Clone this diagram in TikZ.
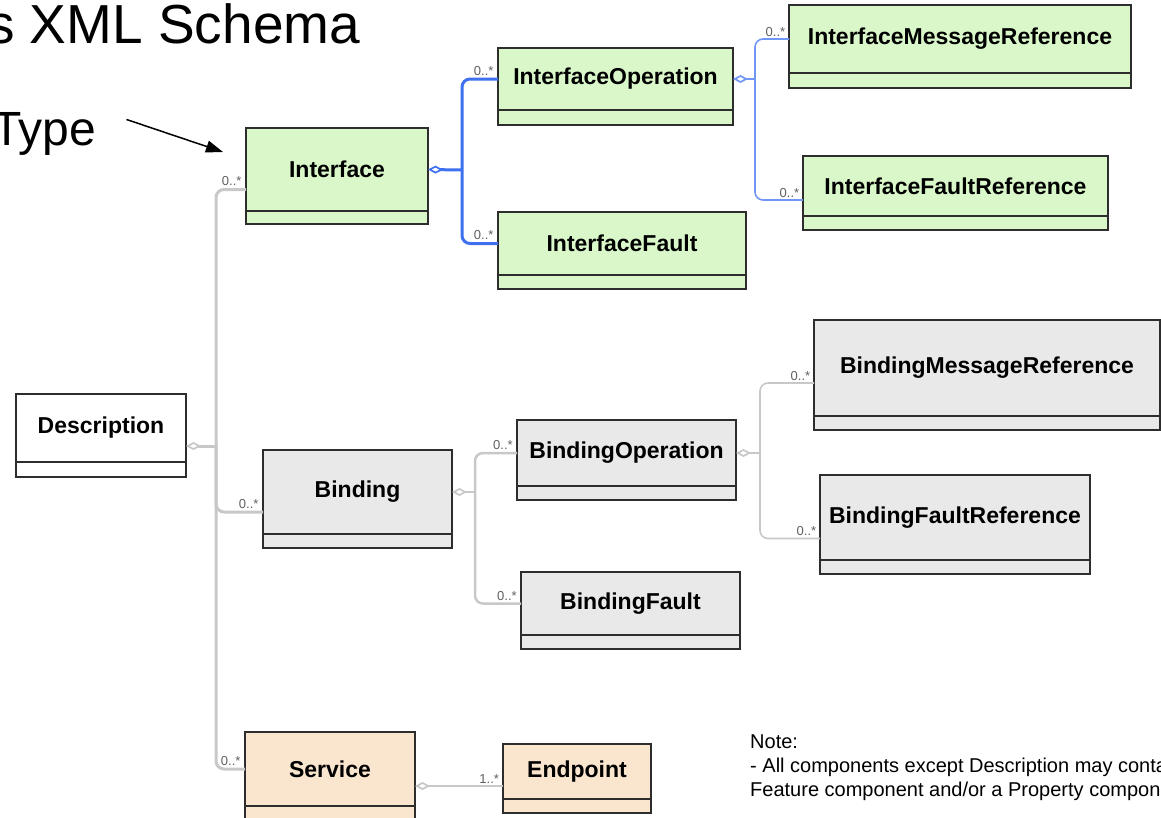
\documentclass[tikz,border=0pt]{standalone}
\usepackage{fontspec}
\setmainfont{Liberation Sans}
\usetikzlibrary{positioning, arrows.meta}

\definecolor{ifgreen}{RGB}{217,247,201}
\definecolor{bdgray}{RGB}{233,233,233}
\definecolor{svorange}{RGB}{250,230,206}
\definecolor{boxline}{RGB}{45,45,45}
\definecolor{linegray}{RGB}{200,200,200}
\definecolor{ifblue}{RGB}{62,112,240}
\definecolor{opblue}{RGB}{112,150,248}
\definecolor{multgray}{RGB}{95,95,95}

\tikzset{
  cls/.style={draw=boxline, line width=1.6pt, anchor=north west, outer sep=0pt,
    inner sep=0pt, font=\fontsize{23}{27}\selectfont\bfseries},
  clsfoot/.style={draw=boxline, line width=1.6pt, outer sep=0pt, inner sep=0pt},
  mult/.style={anchor=south east, inner sep=2pt, xshift=-1pt, text=multgray,
    font=\fontsize{13}{13}\selectfont},
  aggtip/.tip={Diamond[open, length=15pt, width=8pt, line width=1.7pt]},
  trunk/.style={draw=linegray, line width=3pt, rounded corners=8pt},
  bdline/.style={draw=linegray, line width=2.5pt, rounded corners=8pt},
  opline/.style={draw=linegray, line width=1.6pt, rounded corners=8pt},
  ifline/.style={draw=ifblue, line width=3pt, rounded corners=8pt},
  refline/.style={draw=opblue, line width=1.6pt, rounded corners=8pt},
  pointer/.style={draw=black, line width=1.5pt, -{Triangle[length=17pt, width=12pt]}}
}

\begin{document}
\begin{tikzpicture}[x=1pt, y=-1pt]
  \path[use as bounding box, clip] (0,0) rectangle (1161,817);

  % headings
  \node [anchor=base west, inner sep=0pt, font=\fontsize{55}{55}\selectfont] (title) at (-13,43) {s XML Schema};
  \node [anchor=base west, inner sep=0pt, font=\fontsize{48}{48}\selectfont] (typ) at (-8,145) {Type};
  \coordinate (tip) at (223,152);
  \draw [pointer] ([shift={(30pt,14pt)}]typ.east) -- (tip);

  % classes
  \node [cls, fill=white, minimum width=170pt, minimum height=68pt] (desc) at (16,394) {Description};
  \node [clsfoot, fill=white, minimum width=170pt, minimum height=15pt, below=0pt of desc] (descF) {};

  \node [cls, fill=ifgreen, minimum width=182pt, minimum height=83pt] (iface) at (246,128) {Interface};
  \node [clsfoot, fill=ifgreen, minimum width=182pt, minimum height=13pt, below=0pt of iface] (ifaceF) {};
  \node [cls, fill=ifgreen, minimum width=235pt, minimum height=62pt] (iop) at (498,48) {InterfaceOperation};
  \node [clsfoot, fill=ifgreen, minimum width=235pt, minimum height=15pt, below=0pt of iop] (iopF) {};
  \node [cls, fill=ifgreen, minimum width=342pt, minimum height=68pt] (imr) at (789,5) {InterfaceMessageReference};
  \node [clsfoot, fill=ifgreen, minimum width=342pt, minimum height=15pt, below=0pt of imr] (imrF) {};
  \node [cls, fill=ifgreen, minimum width=305pt, minimum height=60pt] (ifr) at (803,156) {InterfaceFaultReference};
  \node [clsfoot, fill=ifgreen, minimum width=305pt, minimum height=14pt, below=0pt of ifr] (ifrF) {};
  \node [cls, fill=ifgreen, minimum width=248pt, minimum height=63pt] (ifault) at (498,212) {InterfaceFault};
  \node [clsfoot, fill=ifgreen, minimum width=248pt, minimum height=14pt, below=0pt of ifault] (ifaultF) {};

  \node [cls, fill=bdgray, minimum width=189pt, minimum height=84pt] (bind) at (263,450) {Binding};
  \node [clsfoot, fill=bdgray, minimum width=189pt, minimum height=14pt, below=0pt of bind] (bindF) {};
  \node [cls, fill=bdgray, minimum width=219pt, minimum height=66pt] (bop) at (517,420) {BindingOperation};
  \node [clsfoot, fill=bdgray, minimum width=219pt, minimum height=14pt, below=0pt of bop] (bopF) {};
  \node [cls, fill=bdgray, minimum width=346pt, minimum height=96pt] (bmr) at (814,320) {BindingMessageReference};
  \node [clsfoot, fill=bdgray, minimum width=346pt, minimum height=14pt, below=0pt of bmr] (bmrF) {};
  \node [cls, fill=bdgray, minimum width=270pt, minimum height=85pt] (bfr) at (820,475) {BindingFaultReference};
  \node [clsfoot, fill=bdgray, minimum width=270pt, minimum height=14pt, below=0pt of bfr] (bfrF) {};
  \node [cls, fill=bdgray, minimum width=219pt, minimum height=63pt] (bfault) at (521,572) {BindingFault};
  \node [clsfoot, fill=bdgray, minimum width=219pt, minimum height=14pt, below=0pt of bfault] (bfaultF) {};

  \node [cls, fill=svorange, minimum width=170pt, minimum height=74pt] (svc) at (245,732) {Service};
  \node [clsfoot, fill=svorange, minimum width=170pt, minimum height=20pt, below=0pt of svc] (svcF) {};
  \node [cls, fill=svorange, minimum width=148pt, minimum height=55pt] (ep) at (503,744) {Endpoint};
  \node [clsfoot, fill=svorange, minimum width=148pt, minimum height=14pt, below=0pt of ep] (epF) {};

  % description tree
  \coordinate (hub) at (216,446);
  \draw [trunk, aggtip-] ([yshift=-18pt]desc.east) -- (hub);
  \draw [trunk] (hub) |- ([yshift=-20pt]iface.west) node [mult] {0..*};
  \draw [trunk] (hub) |- ([yshift=-20pt]bind.west) node [mult] {0..*};
  \draw [trunk] (hub) |- (svc.west) node [mult] {0..*};

  % interface tree
  \coordinate (ihub) at (462,170);
  \draw [ifline, aggtip-] (iface.east) -- (ihub);
  \draw [ifline] (ihub) |- (iop.west) node [mult] {0..*};
  \draw [ifline] (ihub) |- (ifault.west) node [mult] {0..*};

  \coordinate (ohub) at (755,79);
  \draw [refline, aggtip-] (iop.east) -- (ohub);
  \draw [refline] (ohub) |- (imr.west) node [mult] {0..*};
  \draw [refline] (ohub) |- ([yshift=-14pt]ifr.west) node [mult] {0..*};

  % binding tree
  \coordinate (bhub) at (475,492);
  \draw [bdline, aggtip-] (bind.east) -- (bhub);
  \draw [bdline] (bhub) |- (bop.west) node [mult] {0..*};
  \draw [bdline] (bhub) |- (bfault.west) node [mult] {0..*};

  \coordinate (phub) at (760,453);
  \draw [opline, aggtip-] (bop.east) -- (phub);
  \draw [opline] (phub) |- ([yshift=-15pt]bmr.west) node [mult] {0..*};
  \draw [opline] (phub) |- ([yshift=-21pt]bfr.west) node [mult] {0..*};

  % service
  \draw [bdline, line width=2pt, aggtip-] ([yshift=-17pt]svc.east) -- ([yshift=-17pt]svc.east -| ep.west) node [mult] {1..*};

  \node [anchor=north west, align=left, inner sep=0pt, font=\fontsize{20}{24}\selectfont] (note) at (750,735)
    {Note:\\- All components except Description may contain a\\Feature component and/or a Property component};
\end{tikzpicture}
\end{document}
